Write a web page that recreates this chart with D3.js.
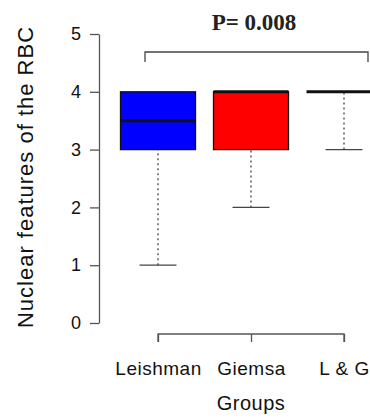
<!DOCTYPE html>
<html>
<head>
<meta charset="utf-8">
<script src="https://cdn.jsdelivr.net/npm/d3@7"></script>
<style>
  body { margin: 0; background: #fff; }
  svg { display: block; font-family: "Liberation Sans", Arial, sans-serif; }
</style>
</head>
<body>
<div id="chart"></div>
<script>
// groups and their box statistics
const groups = ["Leishman", "Giemsa", "L & G"];
const mins    = [1, 2, 3];
const q1s     = [3, 3, 4];
const medians = [3.5, 4, 4];
const q3s     = [4, 4, 4];
const maxs    = [4, 4, 4];
const fills   = ["#0000ff", "#ff0000", "#ffffff"];
const yTicks  = [0, 1, 2, 3, 4, 5];
const pLabel  = "P= 0.008";

const W = 370, H = 419;
const svg = d3.select("#chart").append("svg")
    .attr("width", W).attr("height", H);

const y = d3.scaleLinear().domain([0, 5]).range([323, 34]);
const x = d3.scalePoint().domain(groups).range([158, 344]);
const boxW = 75, capW = 37;

const data = groups.map((g, i) => ({
    g, min: mins[i], q1: q1s[i], med: medians[i], q3: q3s[i], max: maxs[i], fill: fills[i]
}));

// y axis
const yAxis = svg.append("g")
    .attr("transform", "translate(99,0)")
    .call(d3.axisLeft(y).tickValues(yTicks).tickFormat(d3.format("d"))
        .tickSize(9).tickSizeOuter(0).tickPadding(9));
yAxis.select(".domain").attr("stroke", "#555").attr("stroke-width", 1.3);
yAxis.selectAll(".tick line").attr("stroke", "#555").attr("stroke-width", 1.3);
yAxis.selectAll("text").attr("font-size", 18).attr("fill", "#111")
    .attr("font-family", "Liberation Sans, Arial, sans-serif");

svg.append("text")
    .attr("transform", "translate(33,177) rotate(-90)")
    .attr("text-anchor", "middle")
    .attr("font-size", 22)
    .attr("letter-spacing", 1)
    .attr("fill", "#111")
    .text("Nuclear features of the RBC");

// x axis
const xAxis = svg.append("g")
    .attr("transform", "translate(0,334)")
    .call(d3.axisBottom(x).tickSize(8).tickSizeOuter(0).tickPadding(12));
xAxis.select(".domain").attr("stroke", "#555").attr("stroke-width", 1.3)
    .attr("d", `M${x(groups[0])},8V0H${x(groups[2])}V8`);
xAxis.selectAll(".tick line").attr("stroke", "#555").attr("stroke-width", 1.3);
xAxis.selectAll("text").attr("font-size", 19).attr("fill", "#111")
    .attr("letter-spacing", 0.5)
    .attr("dy", null).attr("y", 41)
    .attr("font-family", "Liberation Sans, Arial, sans-serif");

svg.append("text")
    .attr("x", x("Giemsa"))
    .attr("y", 410)
    .attr("text-anchor", "middle")
    .attr("font-size", 20)
    .attr("letter-spacing", 0.5)
    .attr("fill", "#111")
    .text("Groups");

// boxes
const box = svg.append("g").selectAll("g")
    .data(data).join("g")
    .attr("transform", d => `translate(${x(d.g)},0)`);

box.append("line")
    .attr("y1", d => y(d.min)).attr("y2", d => y(d.q1))
    .attr("stroke", "#444").attr("stroke-width", 1.3)
    .attr("stroke-dasharray", "2,3");

box.append("line")
    .attr("x1", -capW / 2).attr("x2", capW / 2)
    .attr("y1", d => y(d.min)).attr("y2", d => y(d.min))
    .attr("stroke", "#444").attr("stroke-width", 1.3);

box.filter(d => d.q3 > d.q1).append("rect")
    .attr("x", -boxW / 2).attr("width", boxW)
    .attr("y", d => y(d.q3)).attr("height", d => y(d.q1) - y(d.q3))
    .attr("fill", d => d.fill)
    .attr("stroke", "#111").attr("stroke-width", 1.3);

box.append("line")
    .attr("x1", -boxW / 2).attr("x2", boxW / 2)
    .attr("y1", d => y(d.med)).attr("y2", d => y(d.med))
    .attr("stroke", "#111").attr("stroke-width", 3);

// significance bracket
const bY = 52;
svg.append("path")
    .attr("d", `M145,${bY + 10}V${bY}H368V${bY + 10}`)
    .attr("fill", "none")
    .attr("stroke", "#444").attr("stroke-width", 1.3);

svg.append("text")
    .attr("x", 254).attr("y", 30)
    .attr("text-anchor", "middle")
    .attr("font-family", "Liberation Serif, Times New Roman, serif")
    .attr("font-weight", "bold")
    .attr("font-size", 23)
    .attr("fill", "#222")
    .text(pLabel);
</script>
</body>
</html>
